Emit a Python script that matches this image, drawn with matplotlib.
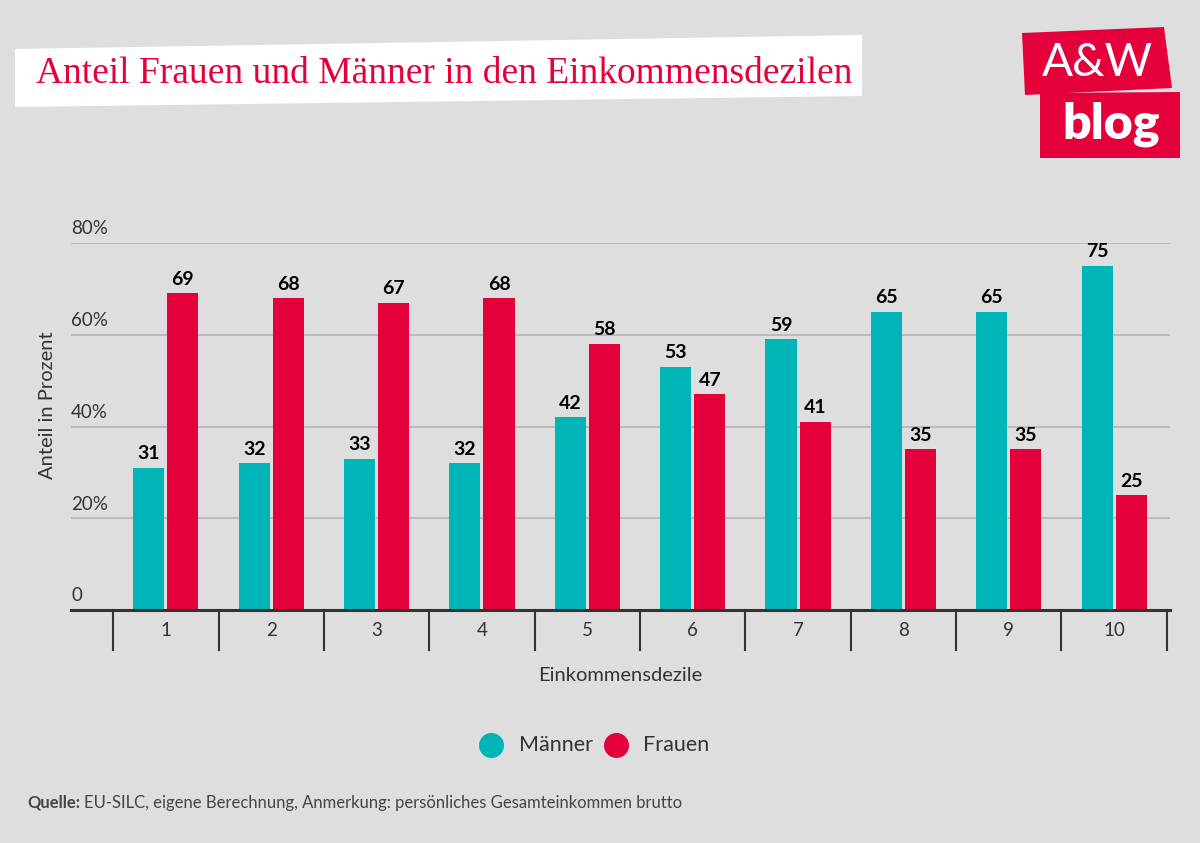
import numpy as np
import matplotlib
matplotlib.use("Agg")
import matplotlib.pyplot as plt
from matplotlib.patches import Polygon
from matplotlib.lines import Line2D

# data
deciles = ["1", "2", "3", "4", "5", "6", "7", "8", "9", "10"]
maenner = [31, 32, 33, 32, 42, 53, 59, 65, 65, 75]
frauen = [69, 68, 67, 68, 58, 47, 41, 35, 35, 25]
yticks = [0, 20, 40, 60, 80]
ytick_labels = ["0", "20%", "40%", "60%", "80%"]

TEAL = "#00B5B8"
RED = "#E4003A"
BG = "#DEDEDE"
GRID = "#B4B4B4"
TXT = "#333333"

plt.rcParams['font.family'] = ['Lato', 'DejaVu Sans']

fig = plt.figure(figsize=(12, 8.43), dpi=100)
fig.patch.set_facecolor(BG)

W, H = 1200, 843
def fx(px):
    return px / W
def fy(py):
    return 1 - py / H

# axes: left 71px, right 1170px, y=0 at 610px, 80 at 243px
ax = fig.add_axes([fx(71), fy(610), fx(1170) - fx(71), fy(243) - fy(610)])
ax.set_facecolor(BG)
ax.set_ylim(0, 80)
x = np.arange(1, len(deciles) + 1)
ax.set_xlim(0.1, 10.53)

bw = 0.295
ax.bar(x - 0.162, maenner, width=bw, color=TEAL, zorder=3)
ax.bar(x + 0.162, frauen, width=bw, color=RED, zorder=3)

for xi, m, f in zip(x, maenner, frauen):
    ax.text(xi - 0.162, m + 1.2, str(m), ha="center", va="bottom",
            fontsize=14, fontweight="bold", color="black", zorder=4)
    ax.text(xi + 0.162, f + 1.2, str(f), ha="center", va="bottom",
            fontsize=14, fontweight="bold", color="black", zorder=4)

# gridlines and y labels sitting above them
for yv, lab in zip(yticks, ytick_labels):
    if yv > 0:
        ax.axhline(yv, color=GRID, lw=1.2, zorder=1)
    ax.text(0.1, yv + 1.2, lab, ha="left", va="bottom", fontsize=13.5, color=TXT)
ax.axhline(0, color="#333333", lw=2.2, zorder=5, clip_on=False)

for s in ax.spines.values():
    s.set_visible(False)
ax.set_xticks([])
ax.set_yticks([])

# category separators and labels below the axis
for sep in np.arange(0.5, 10.6, 1.0):
    ax.add_line(Line2D([sep, sep], [0, -8.7], color="#333333", lw=1.5,
                       clip_on=False))
for xi, lab in zip(x, deciles):
    ax.text(xi, -4.4, lab, ha="center", va="center", fontsize=13.5, color=TXT)

ax.text(5.31, -14.2, "Einkommensdezile", ha="center", va="center",
        fontsize=14.5, color=TXT)
fig.text(fx(48), fy(405), "Anteil in Prozent", rotation=90, ha="center",
         va="center", fontsize=14.5, color=TXT)

# legend
fig.add_artist(Line2D([fx(491)], [fy(745)], marker="o", markersize=17,
                      color=TEAL, transform=fig.transFigure))
fig.text(fx(519), fy(745), "Männer", ha="left", va="center", fontsize=15.5, color=TXT)
fig.add_artist(Line2D([fx(616)], [fy(745)], marker="o", markersize=17,
                      color=RED, transform=fig.transFigure))
fig.text(fx(643), fy(745), "Frauen", ha="left", va="center", fontsize=15.5, color=TXT)

# title box (slightly tilted)
tb = Polygon([[fx(15), fy(49)], [fx(862), fy(35)], [fx(862), fy(96)], [fx(15), fy(107)]],
             closed=True, transform=fig.transFigure, facecolor="white",
             edgecolor="none")
fig.patches.append(tb)
fig.text(fx(36), fy(74), "Anteil Frauen und Männer in den Einkommensdezilen",
         ha="left", va="center", fontsize=27, color=RED,
         family=["Liberation Serif", "DejaVu Serif"])

# logo
b1 = Polygon([[fx(1022), fy(33)], [fx(1164), fy(27)], [fx(1172), fy(88)], [fx(1025), fy(95)]],
             closed=True, transform=fig.transFigure, facecolor=RED, edgecolor="none")
b2 = Polygon([[fx(1040), fy(93)], [fx(1180), fy(92)], [fx(1180), fy(158)], [fx(1040), fy(158)]],
             closed=True, transform=fig.transFigure, facecolor=RED, edgecolor="none")
fig.patches.extend([b1, b2])
fig.text(fx(1097), fy(63), "A&W", ha="center", va="center", fontsize=33,
         color="white", fontweight="normal")
fig.text(fx(1111), fy(124), "blog", ha="center", va="center", fontsize=36,
         color="white", fontweight="heavy")

# source
fig.text(fx(27), fy(803), "Quelle:", ha="left", va="center", fontsize=12,
         color="#444444", fontweight="bold")
fig.text(fx(84), fy(803), "EU-SILC, eigene Berechnung, Anmerkung: persönliches Gesamteinkommen brutto",
         ha="left", va="center", fontsize=12, color="#444444")

fig.savefig("out.png", dpi=100, facecolor=BG)
